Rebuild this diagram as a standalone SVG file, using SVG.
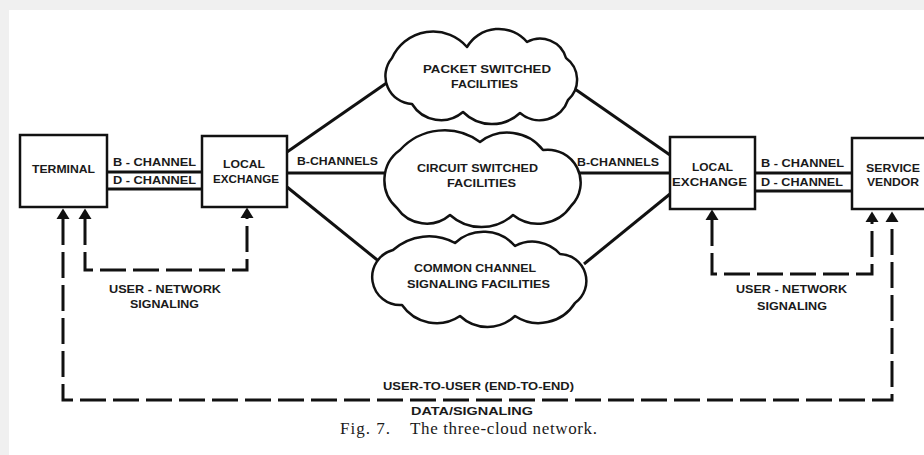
<svg xmlns="http://www.w3.org/2000/svg" width="924" height="455" viewBox="0 0 924 455">
  <style>
    .box { fill: #fff; stroke: #111; stroke-width: 2.5; }
    .cloud { fill: #fff; stroke: #111; stroke-width: 2.5; stroke-linejoin: round; }
    .link { fill: none; stroke: #111; stroke-width: 3; }
    .sig { fill: none; stroke: #111; stroke-width: 3; stroke-dasharray: 26 7; }
    .lbl { font-family: "Liberation Sans", Arial, sans-serif; font-weight: bold; font-size: 11.5px; fill: #1a1a1a; }
    .cap { font-family: "Liberation Serif", "Times New Roman", serif; font-size: 17px; fill: #1a1a1a; }
  </style>
  <defs>
    <marker id="head" viewBox="0 -7 11 14" refX="0" refY="0" markerWidth="11" markerHeight="14" markerUnits="userSpaceOnUse" orient="auto-start-reverse">
      <path d="M0,-6.5 L10.5,0 L0,6.5 Z" fill="#111"/>
    </marker>
  </defs>

  <!-- page background -->
  <rect x="0" y="0" width="924" height="455" fill="#f0f0f0"/>
  <rect x="9" y="10" width="915" height="445" fill="#fff"/>

  <!-- connectors -->
  <g id="connectors">
    <!-- terminal to local exchange -->
    <line class="link" x1="107" y1="172" x2="202" y2="172"/>
    <line class="link" x1="107" y1="189" x2="202" y2="189"/>
    <!-- local exchange to the three clouds -->
    <line class="link" x1="287" y1="152" x2="388" y2="82"/>
    <line class="link" x1="287" y1="173" x2="386" y2="173"/>
    <line class="link" x1="287" y1="187" x2="381" y2="263"/>
    <!-- clouds to remote local exchange -->
    <line class="link" x1="572" y1="87" x2="670" y2="155"/>
    <line class="link" x1="578" y1="173" x2="670" y2="173"/>
    <line class="link" x1="584" y1="264" x2="670" y2="194"/>
    <!-- remote local exchange to service vendor -->
    <line class="link" x1="755" y1="173" x2="852" y2="173"/>
    <line class="link" x1="755" y1="191" x2="852" y2="191"/>
    <!-- user-network signaling loops -->
    <path class="sig" d="M85,219 L85,270 L247,270 L247,218" marker-start="url(#head)" marker-end="url(#head)"/>
    <path class="sig" d="M712,220 L712,274 L872,274 L872,222" marker-start="url(#head)" marker-end="url(#head)"/>
    <!-- end-to-end user signaling -->
    <path class="sig" d="M63,219 L63,400 L892,400 L892,222" marker-start="url(#head)" marker-end="url(#head)"/>
  </g>

  <g id="terminal">
    <rect class="box" x="20" y="135" width="87" height="72"/>
    <text class="lbl" x="32" y="173" textLength="63" lengthAdjust="spacingAndGlyphs">TERMINAL</text>
  </g>

  <g id="local-exchange-a">
    <rect class="box" x="202" y="136" width="85" height="71"/>
    <text class="lbl" x="223" y="168" textLength="42" lengthAdjust="spacingAndGlyphs">LOCAL</text>
    <text class="lbl" x="213" y="183" textLength="66" lengthAdjust="spacingAndGlyphs">EXCHANGE</text>
  </g>

  <g id="packet-cloud">
    <path class="cloud" d="M392,58 A45,45 0 0 1 467,47 A37,37 0 0 1 527,42 A27,27 0 0 1 566,58 A27,27 0 0 1 568,100 A30,30 0 0 1 520,113 A41,41 0 0 1 463,112 A34,34 0 0 1 412,104 A28,28 0 0 1 392,58 Z"/>
    <text class="lbl" x="423" y="73" textLength="128" lengthAdjust="spacingAndGlyphs">PACKET  SWITCHED</text>
    <text class="lbl" x="451" y="88" textLength="67" lengthAdjust="spacingAndGlyphs">FACILITIES</text>
  </g>

  <g id="circuit-cloud">
    <path class="cloud" d="M400,150 A60,60 0 0 1 480,142 A45,45 0 0 1 543,150 A33,33 0 0 1 571,206 A40,40 0 0 1 513,215 A47,47 0 0 1 450,215 A36,36 0 0 1 397,208 A37,37 0 0 1 400,150 Z"/>
    <text class="lbl" x="417" y="172" textLength="121" lengthAdjust="spacingAndGlyphs">CIRCUIT SWITCHED</text>
    <text class="lbl" x="447" y="187" textLength="69" lengthAdjust="spacingAndGlyphs">FACILITIES</text>
  </g>

  <g id="signaling-cloud">
    <path class="cloud" d="M393,250 A54,54 0 0 1 455,243 A42,42 0 0 1 515,246 A37,37 0 0 1 560,254 A27,27 0 0 1 575,303 A43,43 0 0 1 515,316 A40,40 0 0 1 460,316 A42,42 0 0 1 402,305 A28,28 0 0 1 393,250 Z"/>
    <text class="lbl" x="414" y="272" textLength="122" lengthAdjust="spacingAndGlyphs">COMMON CHANNEL</text>
    <text class="lbl" x="407" y="288" textLength="143" lengthAdjust="spacingAndGlyphs">SIGNALING FACILITIES</text>
  </g>

  <g id="local-exchange-b">
    <rect class="box" x="670" y="137" width="85" height="72"/>
    <text class="lbl" x="692" y="171" textLength="41" lengthAdjust="spacingAndGlyphs">LOCAL</text>
    <text class="lbl" x="672" y="186" textLength="75" lengthAdjust="spacingAndGlyphs">EXCHANGE</text>
  </g>

  <g id="service-vendor">
    <rect class="box" x="852" y="138" width="90" height="71"/>
    <text class="lbl" x="866" y="172" textLength="54" lengthAdjust="spacingAndGlyphs">SERVICE</text>
    <text class="lbl" x="867" y="186" textLength="52" lengthAdjust="spacingAndGlyphs">VENDOR</text>
  </g>

  <!-- connector labels -->
  <g id="labels">
    <text class="lbl" x="113" y="166" textLength="83" lengthAdjust="spacingAndGlyphs">B - CHANNEL</text>
    <text class="lbl" x="113" y="184" textLength="83" lengthAdjust="spacingAndGlyphs">D - CHANNEL</text>
    <text class="lbl" x="297" y="165" textLength="81" lengthAdjust="spacingAndGlyphs">B-CHANNELS</text>
    <text class="lbl" x="577" y="166" textLength="82" lengthAdjust="spacingAndGlyphs">B-CHANNELS</text>
    <text class="lbl" x="761" y="167" textLength="83" lengthAdjust="spacingAndGlyphs">B - CHANNEL</text>
    <text class="lbl" x="761" y="186" textLength="82" lengthAdjust="spacingAndGlyphs">D - CHANNEL</text>
    <text class="lbl" x="109" y="293" textLength="112" lengthAdjust="spacingAndGlyphs">USER - NETWORK</text>
    <text class="lbl" x="130" y="308" textLength="69" lengthAdjust="spacingAndGlyphs">SIGNALING</text>
    <text class="lbl" x="736" y="293" textLength="111" lengthAdjust="spacingAndGlyphs">USER - NETWORK</text>
    <text class="lbl" x="757" y="310" textLength="70" lengthAdjust="spacingAndGlyphs">SIGNALING</text>
    <text class="lbl" x="383" y="390" font-size="10.5" textLength="191" lengthAdjust="spacingAndGlyphs">USER-TO-USER (END-TO-END)</text>
    <text class="lbl" x="411" y="415" font-size="10.5" textLength="122" lengthAdjust="spacingAndGlyphs">DATA/SIGNALING</text>
  </g>

  <!-- figure caption -->
  <text class="cap" y="434"><tspan x="340" textLength="50">Fig. 7.</tspan><tspan x="410" textLength="187">The three-cloud network.</tspan></text>
</svg>
